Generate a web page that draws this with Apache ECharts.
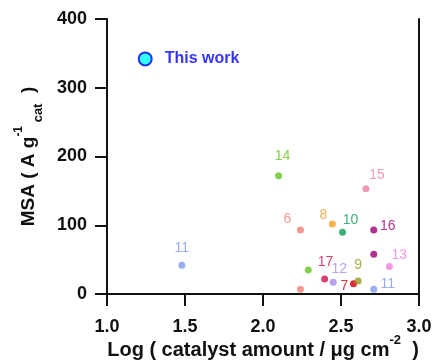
<!DOCTYPE html>
<html>
<head>
<meta charset="utf-8">
<script src="https://cdn.jsdelivr.net/npm/echarts@6/dist/echarts.min.js"></script>
<style>
html,body{margin:0;padding:0;background:#fff;}
#container1{width:433px;height:362px;}
</style>
</head>
<body>
<div id="container1"></div>
<script>
// data: [log catalyst amount, MSA]
var thisWork = [[1.245, 342]];
var ref6  = [[2.24, 93], [2.24, 7]];
var ref7  = [[2.58, 15]];
var ref8  = [[2.445, 102]];
var ref9  = [[2.61, 19]];
var ref10 = [[2.51, 90]];
var ref11 = [[1.48, 42], [2.71, 7]];
var ref12 = [[2.45, 17]];
var ref13 = [[2.81, 40]];
var ref14 = [[2.10, 172], [2.29, 35]];
var ref15 = [[2.66, 153]];
var ref16 = [[2.71, 93], [2.71, 58]];
var ref17 = [[2.395, 22]];
var xTicks = [1.0, 1.5, 2.0, 2.5, 3.0];
var yTicks = [0, 100, 200, 300, 400];

// reference name, points, colour, label offsets (null = no label)
var refs = [
  ['6',  ref6,  '#f08078', [[-13, -11], null]],
  ['7',  ref7,  '#d00010', [[-9, 2]]],
  ['8',  ref8,  '#f0a020', [[-9, -9]]],
  ['9',  ref9,  '#9a9a1a', [[0, -16]]],
  ['10', ref10, '#109a58', [[8, -12]]],
  ['11', ref11, '#7f9af0', [[0, -17], [14, -5]]],
  ['12', ref12, '#a888ee', [[6, -13]]],
  ['13', ref13, '#f07fe0', [[10, -11]]],
  ['14', ref14, '#66c322', [[4, -20], null]],
  ['15', ref15, '#ea82a4', [[11, -14]]],
  ['16', ref16, '#990070', [[14, -4], null]],
  ['17', ref17, '#d0104a', [[1, -17]]]
];

var myChart = echarts.init(document.getElementById('container1'));
initChart();

function initChart(){
  var font = 'Liberation Sans, Arial, sans-serif';
  var series = [];
  refs.forEach(function(r){
    var pts = r[1].map(function(p, i){
      var off = r[3][i];
      return {
        value: p,
        label: off ? {show: true, position: 'inside', offset: off} : {show: false}
      };
    });
    series.push({
      name: r[0],
      type: 'scatter',
      data: pts,
      symbolSize: 7,
      itemStyle: {color: r[2]},
      label: {
        formatter: r[0],
        color: r[2],
        fontSize: 14,
        fontFamily: font
      }
    });
  });
  series.push({
    name: 'This work',
    type: 'scatter',
    data: thisWork,
    symbolSize: 13,
    itemStyle: {color: '#00ffff', borderColor: '#0000e0', borderWidth: 2},
    label: {
      show: true,
      position: 'right',
      distance: 12,
      formatter: 'This work',
      color: '#0000ff',
      fontSize: 16,
      fontWeight: 'bold',
      fontFamily: font
    }
  });

  var option = {
    animation: false,
    grid: {left: 107, top: 19, right: 14, bottom: 68, outerBoundsMode: 'none', containLabel: false},
    xAxis: [{
      type: 'value',
      min: xTicks[0],
      max: xTicks[xTicks.length - 1],
      interval: 0.5,
      splitLine: {show: false},
      axisLine: {lineStyle: {color: '#111', width: 2}},
      axisTick: {length: 12, lineStyle: {color: '#111', width: 2}},
      axisLabel: {
        margin: 24,
        color: '#111',
        fontSize: 18,
        fontWeight: 'bold',
        fontFamily: font,
        formatter: function(v){ return v.toFixed(1); }
      },
      name: '{b|Log ( catalyst amount / \u03bcg cm}{s|-2}{b|  )}',
      nameLocation: 'middle',
      nameGap: 40,
      nameMoveOverlap: false,
      nameTextStyle: {
        rich: {
          b: {fontSize: 20, fontWeight: 'bold', fontFamily: font, color: '#111', verticalAlign: 'bottom', lineHeight: 26},
          s: {fontSize: 13, fontWeight: 'bold', fontFamily: font, color: '#111', verticalAlign: 'top', lineHeight: 26}
        }
      }
    }, {
      type: 'value',
      position: 'top',
      min: xTicks[0],
      max: xTicks[xTicks.length - 1],
      axisLine: {show: true, lineStyle: {color: '#111', width: 2}},
      axisTick: {show: false},
      axisLabel: {show: false},
      splitLine: {show: false}
    }],
    yAxis: [{
      type: 'value',
      min: yTicks[0],
      max: yTicks[yTicks.length - 1],
      interval: 100,
      splitLine: {show: false},
      axisLine: {show: true, lineStyle: {color: '#111', width: 2}},
      axisTick: {show: true, length: 12, lineStyle: {color: '#111', width: 2}},
      axisLabel: {
        margin: 20,
        color: '#111',
        fontSize: 18,
        fontWeight: 'bold',
        fontFamily: font
      },
      name: '{b|MSA ( A g}{p|-1}{s| cat}{b|  )}',
      nameLocation: 'middle',
      nameRotate: 90,
      nameGap: 62,
      nameMoveOverlap: false,
      nameTextStyle: {
        rich: {
          b: {fontSize: 19, fontWeight: 'bold', fontFamily: font, color: '#111', verticalAlign: 'middle', lineHeight: 32},
          p: {fontSize: 12, fontWeight: 'bold', fontFamily: font, color: '#111', verticalAlign: 'top', lineHeight: 32},
          s: {fontSize: 13, fontWeight: 'bold', fontFamily: font, color: '#111', verticalAlign: 'bottom', lineHeight: 32}
        }
      }
    }, {
      type: 'value',
      position: 'right',
      min: yTicks[0],
      max: yTicks[yTicks.length - 1],
      axisLine: {show: true, lineStyle: {color: '#111', width: 2}},
      axisTick: {show: false},
      axisLabel: {show: false},
      splitLine: {show: false}
    }],
    series: series
  };
  myChart.setOption(option);
}
</script>
</body>
</html>
